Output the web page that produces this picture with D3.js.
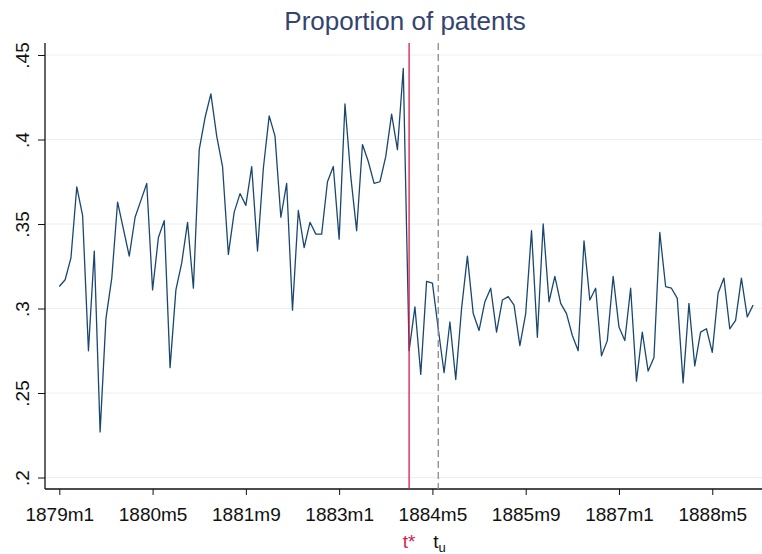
<!DOCTYPE html>
<html>
<head>
<meta charset="utf-8">
<script src="https://cdnjs.cloudflare.com/ajax/libs/d3/7.8.5/d3.min.js"></script>
<style>
  body { margin: 0; background: #fff; }
  svg { display: block; font-family: "Liberation Sans", Arial, sans-serif; }
  .title { font-size: 26px; fill: #34446e; }
  .tick text { font-size: 19px; fill: #111; }
</style>
</head>
<body>
<svg width="762" height="554"></svg>
<script>
// monthly proportion, 1879m1 .. 1888m12
var proportion = [
  0.313, 0.317, 0.330, 0.372, 0.355, 0.275, 0.334, 0.227, 0.294, 0.318,
  0.363, 0.347, 0.331, 0.354, 0.364, 0.374, 0.311, 0.342, 0.352, 0.265,
  0.311, 0.327, 0.351, 0.312, 0.394, 0.413, 0.427, 0.402, 0.384, 0.332,
  0.357, 0.368, 0.361, 0.384, 0.334, 0.383, 0.414, 0.402, 0.354, 0.374,
  0.299, 0.358, 0.336, 0.351, 0.344, 0.344, 0.375, 0.384, 0.341, 0.421,
  0.378, 0.346, 0.397, 0.387, 0.374, 0.375, 0.390, 0.415, 0.394, 0.442,
  0.275, 0.301, 0.261, 0.316, 0.315, 0.288, 0.262, 0.292, 0.258, 0.300,
  0.331, 0.297, 0.287, 0.304, 0.312, 0.286, 0.305, 0.307, 0.302, 0.278,
  0.297, 0.346, 0.283, 0.350, 0.304, 0.319, 0.303, 0.297, 0.284, 0.275,
  0.340, 0.305, 0.312, 0.272, 0.281, 0.319, 0.289, 0.281, 0.312, 0.257,
  0.286, 0.263, 0.271, 0.345, 0.313, 0.312, 0.306, 0.256, 0.303, 0.266,
  0.286, 0.288, 0.274, 0.309, 0.318, 0.288, 0.293, 0.318, 0.295, 0.302
];
var startYear = 1879;
var months = proportion.map(function(d, i) {
  return (startYear + Math.floor(i / 12)) + "m" + (i % 12 + 1);
});

var xTickLabels = ["1879m1", "1880m5", "1881m9", "1883m1", "1884m5", "1885m9", "1887m1", "1888m5"];
var yTicks = [0.2, 0.25, 0.3, 0.35, 0.4, 0.45];
var yTickLabels = [".2", ".25", ".3", ".35", ".4", ".45"];

var breakMonth = "1884m1";   // t*
var estMonth = "1884m6";     // t_u

var svg = d3.select("svg");
var plotLeft = 45, plotRight = 762, plotTop = 43, plotBottom = 489;

var xScale = d3.scaleLinear().domain([0, months.length - 1]).range([59.3, 59.3 + 5.83 * (months.length - 1)]);
var yScale = d3.scaleLinear().domain([0.2, 0.45]).range([477.5, 55]);

svg.append("text")
  .attr("class", "title")
  .attr("x", 405)
  .attr("y", 30)
  .attr("text-anchor", "middle")
  .text("Proportion of patents");

// gridlines
svg.append("g")
  .selectAll("line")
  .data(yTicks)
  .enter()
  .append("line")
  .attr("x1", plotLeft)
  .attr("x2", plotRight)
  .attr("y1", function(d) { return yScale(d); })
  .attr("y2", function(d) { return yScale(d); })
  .attr("stroke", "#e8f0f2")
  .attr("stroke-width", 1);

// y axis
var yAxis = svg.append("g")
  .attr("transform", "translate(" + plotLeft + ",0)")
  .call(d3.axisLeft(yScale).tickValues(yTicks).tickSize(7).tickPadding(8)
    .tickFormat(function(d, i) { return yTickLabels[i]; }));
yAxis.select(".domain").remove();
yAxis.selectAll(".tick line").attr("stroke", "#111");
yAxis.selectAll(".tick text")
  .attr("x", 0)
  .attr("y", 0)
  .attr("dy", 0)
  .attr("text-anchor", "middle")
  .attr("transform", "translate(-16,0) rotate(-90)");
svg.append("line")
  .attr("x1", plotLeft).attr("x2", plotLeft)
  .attr("y1", plotTop).attr("y2", plotBottom)
  .attr("stroke", "#111").attr("stroke-width", 1.3);

// x axis
var xTickIdx = xTickLabels.map(function(l) { return months.indexOf(l); });
var xAxis = svg.append("g")
  .attr("transform", "translate(0," + plotBottom + ")")
  .call(d3.axisBottom(xScale).tickValues(xTickIdx).tickSize(6).tickPadding(13)
    .tickFormat(function(d, i) { return xTickLabels[i]; }));
xAxis.select(".domain").remove();
xAxis.selectAll(".tick line").attr("stroke", "#111");
svg.append("line")
  .attr("x1", plotLeft).attr("x2", plotRight)
  .attr("y1", plotBottom).attr("y2", plotBottom)
  .attr("stroke", "#111").attr("stroke-width", 1.3);

// series
var line = d3.line()
  .x(function(d, i) { return xScale(i); })
  .y(function(d) { return yScale(d); });

svg.append("path")
  .datum(proportion)
  .attr("fill", "none")
  .attr("stroke", "#1a476f")
  .attr("stroke-width", 1.3)
  .attr("stroke-linejoin", "round")
  .attr("d", line);

// break lines
var xb = xScale(months.indexOf(breakMonth));
var xu = xScale(months.indexOf(estMonth));

svg.append("line")
  .attr("x1", xb).attr("x2", xb)
  .attr("y1", plotTop).attr("y2", plotBottom)
  .attr("stroke", "#d81b4a").attr("stroke-width", 1.3);

svg.append("line")
  .attr("x1", xu).attr("x2", xu)
  .attr("y1", plotTop).attr("y2", plotBottom)
  .attr("stroke", "#8a8a8a").attr("stroke-width", 1.3)
  .attr("stroke-dasharray", "7,4");

svg.append("text")
  .attr("x", xb)
  .attr("y", 548)
  .attr("text-anchor", "middle")
  .attr("fill", "#d81b4a")
  .style("font-size", "19px")
  .text("t*");

var tu = svg.append("text")
  .attr("x", xu - 5)
  .attr("y", 548)
  .attr("fill", "#111")
  .style("font-size", "19px");
tu.append("tspan").text("t");
tu.append("tspan").attr("dy", 4).style("font-size", "13px").text("u");
</script>
</body>
</html>
